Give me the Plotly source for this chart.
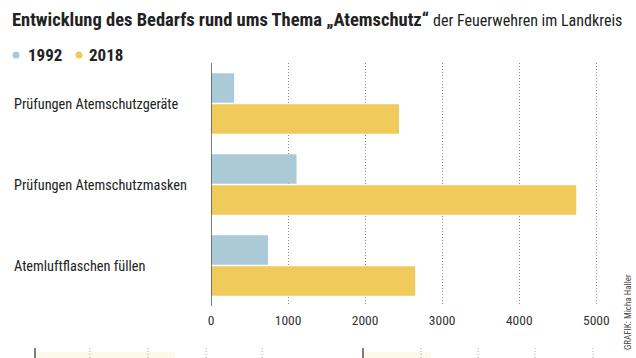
import plotly.graph_objects as go

categories = ["Prüfungen Atemschutzgeräte", "Prüfungen Atemschutzmasken", "Atemluftflaschen füllen"]
values_1992 = [300, 1110, 740]
values_2018 = [2440, 4740, 2650]
series_names = ["1992", "2018"]
x_ticks = [0, 1000, 2000, 3000, 4000, 5000]

FONT = "Roboto, Open Sans, sans-serif"
C = "font-stretch:condensed"
BLUE = "#aacad7"
YELLOW = "#f0ca5a"
W, H = 636, 358
L, R, T, B = 211, 32, 63, 52
PW, PH = W - L - R, H - T - B


def px(x):
    return (x - L) / PW


def py(y):
    return (H - B - y) / PH


def cond(s):
    return f"<span style='{C}'>{s}</span>"


fig = go.Figure()
fig.add_trace(go.Bar(y=categories, x=values_1992, name=series_names[0], orientation="h",
                     marker=dict(color=BLUE, line=dict(width=0)), showlegend=False))
fig.add_trace(go.Bar(y=categories, x=values_2018, name=series_names[1], orientation="h",
                     marker=dict(color=YELLOW, line=dict(width=0)), showlegend=False))

fig.update_layout(
    width=W, height=H,
    margin=dict(l=L, r=R, t=T, b=B),
    paper_bgcolor="white", plot_bgcolor="white",
    barmode="group", bargap=0.235, bargroupgap=0.05,
    font=dict(family=FONT, color="#222"),
    xaxis=dict(range=[0, 5100], tickvals=x_ticks, ticktext=[cond(str(v)) for v in x_ticks],
               showgrid=True, gridcolor="#8a8a8a", griddash="1px,2px", gridwidth=1,
               zeroline=False, showline=False, ticks="", ticklabelstandoff=4,
               tickfont=dict(family=FONT, size=13.5, color="#333")),
    yaxis=dict(autorange="reversed", showticklabels=False, showgrid=False, zeroline=False,
               showline=False, ticks=""),
)

# baseline at zero
fig.add_shape(type="line", xref="x", yref="paper", x0=0, x1=0, y0=0, y1=1,
              line=dict(color="#555", width=1.5))

# category labels
for c in categories:
    fig.add_annotation(x=px(12), xref="paper", y=c, yref="y", text=cond(c),
                       showarrow=False, xanchor="left", yanchor="middle",
                       font=dict(family=FONT, size=14.3, color="#222"))

# title
fig.add_annotation(xref="paper", yref="paper", x=px(10), y=py(20),
                   xanchor="left", yanchor="middle", showarrow=False,
                   text=cond("<b>Entwicklung des Bedarfs rund ums Thema „Atemschutz“</b> "
                             "<span style='font-size:16px'>der Feuerwehren im Landkreis</span>"),
                   font=dict(family=FONT, size=18.5, color="#222"))

# legend
for (xd, xt, col, name) in [(16, 26, BLUE, series_names[0]), (79, 87, YELLOW, series_names[1])]:
    fig.add_shape(type="circle", xref="paper", yref="paper",
                  x0=px(xd - 3.5), x1=px(xd + 3.5), y0=py(58.5), y1=py(51.5),
                  fillcolor=col, line=dict(width=0))
    fig.add_annotation(xref="paper", yref="paper", x=px(xt), y=py(55),
                       xanchor="left", yanchor="middle", showarrow=False,
                       text=cond(f"<b>{name}</b>"),
                       font=dict(family=FONT, size=17, color="#222"))

# credit
fig.add_annotation(xref="paper", yref="paper", x=px(628), y=py(312),
                   xanchor="center", yanchor="middle", showarrow=False, textangle=-90,
                   text=cond("GRAFIK: Micha Haller"),
                   font=dict(family=FONT, size=9, color="#444"))

# top edge of the next (cut-off) graphic below
for x0, x1 in [(35, 175), (363, 431)]:
    fig.add_shape(type="rect", xref="paper", yref="paper", x0=px(x0), x1=px(x1),
                  y0=py(358), y1=py(352), fillcolor="#fcf8ea", line=dict(width=0), layer="below")
for xb in [35, 363]:
    fig.add_shape(type="line", xref="paper", yref="paper", x0=px(xb), x1=px(xb),
                  y0=py(358), y1=py(348), line=dict(color="#555", width=1.5))
for xd in [90, 148, 206, 262, 421, 478, 535, 593]:
    fig.add_shape(type="line", xref="paper", yref="paper", x0=px(xd), x1=px(xd),
                  y0=py(358), y1=py(348), line=dict(color="#aaa", width=1, dash="1px,2px"))

fig.write_html("out.html", config={"displayModeBar": False},
               post_script="document.body.style.margin='0';")
